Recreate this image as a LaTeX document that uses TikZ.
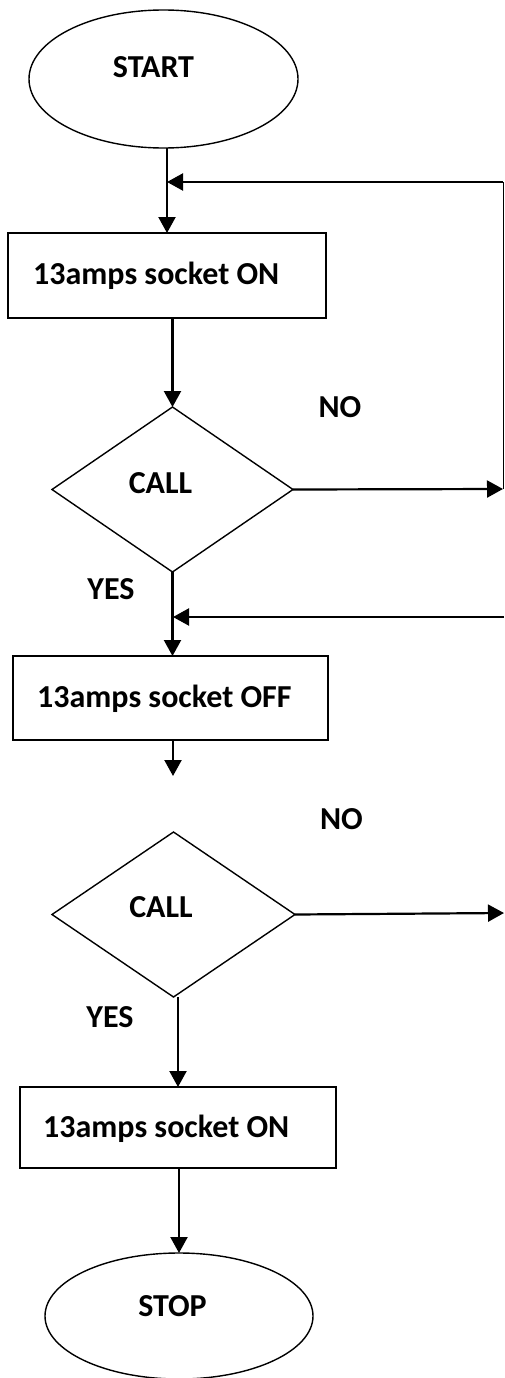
\documentclass[tikz,border=0pt]{standalone}
\usepackage{fontspec}
\setmainfont{Carlito}
\usetikzlibrary{shapes.geometric,arrows.meta}
\begin{document}
\begin{tikzpicture}[x=1pt,y=-1pt,
  shapeline/.style={draw=black,line width=1.4pt,inner sep=0pt,outer sep=0pt},
  termbox/.style={shapeline,ellipse},
  procbox/.style={shapeline,rectangle},
  decbox/.style={shapeline,diamond},
  txt/.style={inner sep=0pt,font=\fontsize{32}{38}\selectfont\bfseries},
  arr/.style={line width=2.2pt,-{Triangle[length=16pt,width=17pt]}},
  plainline/.style={line width=1pt}]
\useasboundingbox (0,0) rectangle (504,1378);
\fill[white] (0,0) rectangle (504,1378);

% shapes
\node[termbox,minimum width=269pt,minimum height=138pt] (start) at (163.5,79) {};
\node[procbox,minimum width=318pt,minimum height=85pt] (box1) at (167,275.5) {};
\node[decbox,minimum width=241pt,minimum height=165pt] (d1) at (172.5,489.5) {};
\node[procbox,minimum width=315pt,minimum height=84pt] (box2) at (170.5,698) {};
\node[decbox,minimum width=243pt,minimum height=165pt] (d2) at (173.5,914.5) {};
\node[procbox,minimum width=316pt,minimum height=81pt] (box3) at (178,1127.5) {};
\node[termbox,minimum width=268pt,minimum height=126pt] (stop) at (179,1316) {};

% texts
\node[txt,anchor=base] (tstart) at (153.5,78) {START};
\node[txt,anchor=base west] (tbox1) at (33,284) {13amps socket ON};
\node[txt,anchor=base] (tno1) at (340,417) {NO};
\node[txt,anchor=base] (tcall1) at (160.5,493) {CALL};
\node[txt,anchor=base] (tyes1) at (111,599) {YES};
\node[txt,anchor=base west] (tbox2) at (37,707) {13amps socket OFF};
\node[txt,anchor=base] (tno2) at (341.5,829) {NO};
\node[txt,anchor=base] (tcall2) at (161,917) {CALL};
\node[txt,anchor=base] (tyes2) at (110,1027) {YES};
\node[txt,anchor=base west] (tbox3) at (43,1137) {13amps socket ON};
\node[txt,anchor=base] (tstop) at (172.5,1316) {STOP};

% free ends
\coordinate (r1top) at (503,182);
\coordinate (r1bot) at (503,489);
\coordinate (j1) at (167,182);
\coordinate (r2) at (504,617);
\coordinate (j2) at (173,617);
\coordinate (a2end) at (173,776);
\coordinate (r3) at (504,913);

% connectors
\draw[arr] (box1.north |- start.south) -- (box1.north);
\draw[plainline] (r1bot) -- (r1top);
\draw[arr] (r1top) -- (j1);
\draw[arr] (box1.south -| d1.north) -- (d1.north);
\draw[arr] (d1.east) -- (r1bot);
\draw[arr] (d1.south) -- (d1.south |- box2.north);
\draw[arr] (r2) -- (j2);
\draw[arr] (box2.south -| a2end) -- (a2end);
\draw[arr] (d2.east) -- (r3);
\draw[arr] (d2.south -| box3.north) -- (box3.north);
\draw[arr] (box3.south -| stop.north) -- (stop.north);
\end{tikzpicture}
\end{document}
